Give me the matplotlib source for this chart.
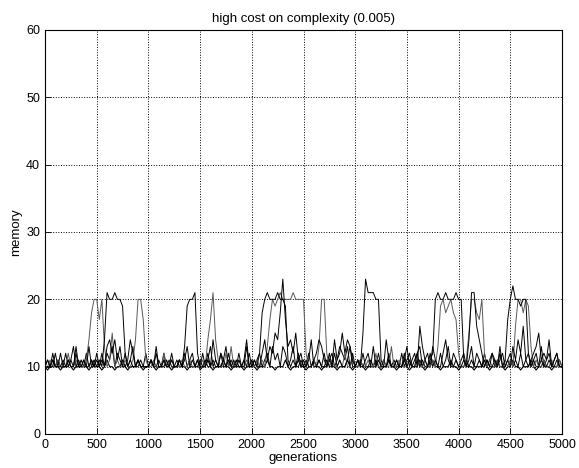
import numpy as np
import matplotlib
matplotlib.use("Agg")
import matplotlib.pyplot as plt

# one sample every 25 generations, 0 .. 5000
step = 25
gens = np.arange(0, 5001, step)

run_a = [10, 11, 10, 10, 12, 10, 10, 11, 10, 10, 11, 10, 12, 10, 10, 11, 10, 10, 11, 10,
         10, 11, 10, 14, 21, 20, 20, 21, 20, 20, 19, 12, 10, 11, 10, 10, 11, 10, 10, 10,
         10, 11, 10, 12, 10, 10, 11, 10, 10, 11, 10, 10, 11, 10, 13, 19, 20, 20, 21, 12,
         10, 10, 11, 10, 10, 11, 10, 10, 12, 10, 10, 11, 10, 10, 10, 11, 10, 10, 13, 10,
         10, 11, 10, 12, 18, 20, 21, 20, 20, 20, 21, 20, 20, 19, 11, 10, 11, 10, 10, 11,
         10, 10, 11, 14, 10, 10, 11, 10, 10, 11, 10, 10, 12, 10, 11, 10, 10, 11, 13, 10,
         10, 11, 10, 15, 23, 21, 21, 21, 20, 20, 11, 10, 10, 11, 10, 10, 11, 10, 10, 12,
         10, 11, 10, 10, 12, 10, 11, 10, 10, 11, 12, 20, 21, 20, 20, 21, 20, 20, 20, 21,
         20, 20, 11, 10, 10, 11, 10, 10, 11, 10, 10, 11, 10, 10, 11, 10, 12, 10, 11, 17,
         20, 22, 20, 20, 19, 20, 20, 12, 10, 11, 10, 10, 11, 10, 10, 11, 10, 10, 11, 10,
         10]

run_b = [10, 10, 11, 10, 10, 11, 10, 10, 10, 12, 10, 10, 11, 10, 10, 10, 11, 14, 18, 20,
         20, 17, 20, 13, 10, 11, 15, 10, 11, 10, 10, 11, 10, 10, 11, 14, 20, 20, 17, 11,
         10, 10, 11, 10, 10, 10, 12, 10, 10, 11, 10, 10, 10, 11, 10, 10, 11, 10, 10, 10,
         10, 11, 10, 14, 17, 21, 14, 11, 10, 10, 12, 10, 13, 10, 10, 11, 10, 10, 11, 10,
         10, 10, 11, 10, 11, 10, 13, 17, 20, 19, 20, 21, 20, 20, 20, 20, 21, 20, 20, 20,
         20, 12, 10, 10, 11, 10, 13, 20, 20, 12, 10, 11, 10, 10, 11, 10, 12, 10, 10, 11,
         10, 10, 11, 10, 10, 11, 10, 10, 12, 10, 10, 11, 10, 10, 13, 10, 10, 11, 10, 10,
         10, 11, 10, 10, 11, 10, 10, 11, 10, 10, 11, 10, 13, 19, 20, 18, 19, 20, 18, 17,
         12, 10, 10, 11, 15, 20, 20, 18, 17, 20, 12, 10, 11, 10, 10, 11, 10, 10, 11, 10,
         11, 10, 16, 20, 20, 18, 20, 19, 13, 10, 11, 10, 10, 11, 10, 10, 11, 10, 10, 11,
         10]

run_c = [10, 10, 10, 11, 10, 10, 12, 10, 10, 11, 10, 10, 13, 10, 10, 11, 10, 13, 10, 10,
         11, 10, 12, 10, 13, 14, 12, 14, 11, 13, 10, 10, 11, 14, 12, 10, 10, 11, 10, 10,
         10, 11, 10, 13, 10, 10, 11, 10, 10, 12, 10, 10, 11, 10, 11, 13, 10, 11, 10, 10,
         11, 10, 10, 12, 10, 14, 11, 10, 10, 11, 10, 12, 10, 11, 10, 10, 10, 11, 14, 10,
         10, 11, 10, 10, 12, 14, 11, 13, 12, 15, 14, 18, 23, 17, 13, 14, 12, 15, 11, 12,
         10, 11, 10, 10, 11, 12, 14, 13, 11, 10, 12, 10, 14, 11, 12, 15, 12, 14, 13, 11,
         10, 11, 10, 10, 11, 12, 10, 13, 10, 11, 10, 10, 14, 11, 10, 10, 11, 10, 10, 11,
         13, 10, 11, 12, 10, 16, 13, 11, 10, 12, 10, 11, 10, 10, 12, 14, 11, 10, 10, 11,
         10, 10, 11, 10, 14, 21, 21, 16, 14, 12, 10, 11, 10, 12, 11, 10, 13, 10, 10, 11,
         10, 13, 11, 14, 12, 16, 11, 10, 11, 12, 13, 15, 11, 12, 11, 14, 10, 11, 12, 10,
         10]

run_d = [10, 9.5, 10, 11, 10, 10, 9.5, 10, 10, 11, 10, 9.5, 10, 10, 11, 10, 10, 9.5, 10, 11,
         10, 10, 9.5, 10, 11, 10, 10, 9.5, 10, 10, 11, 10, 9.5, 10, 10, 10, 11, 10, 9.5, 10,
         10, 11, 10, 9.5, 10, 10, 10, 11, 10, 9.5, 10, 10, 11, 10, 10, 9.5, 10, 10, 10, 11,
         9.5, 10, 10, 11, 10, 9.5, 10, 10, 10, 11, 10, 10, 9.5, 10, 11, 10, 10, 9.5, 10, 10,
         11, 10, 9.5, 10, 10, 10, 11, 10, 10, 9.5, 10, 10, 10, 11, 10, 9.5, 10, 10, 11, 10,
         10, 9.5, 10, 10, 11, 10, 10, 9.5, 10, 10, 11, 10, 10, 9.5, 10, 10, 10, 11, 10, 9.5,
         10, 10, 11, 10, 9.5, 10, 10, 10, 11, 10, 9.5, 10, 10, 11, 10, 10, 9.5, 10, 10, 11,
         10, 9.5, 10, 10, 10, 11, 10, 9.5, 10, 10, 11, 10, 10, 9.5, 10, 10, 10, 11, 10, 10,
         9.5, 10, 10, 11, 10, 10, 9.5, 10, 10, 10, 11, 10, 9.5, 10, 10, 11, 10, 10, 9.5, 10,
         10, 11, 10, 10, 9.5, 10, 10, 10, 11, 10, 9.5, 10, 10, 11, 10, 10, 9.5, 10, 10, 11,
         10]

run_e = [10, 11, 10, 12, 10, 11, 10, 10, 12, 10, 11, 13, 10, 11, 10, 10, 12, 10, 11, 10,
         12, 10, 11, 10, 12, 11, 13, 10, 12, 11, 10, 12, 10, 11, 13, 10, 11, 10, 10, 12,
         10, 11, 10, 10, 11, 10, 12, 10, 11, 10, 10, 11, 10, 10, 12, 10, 11, 12, 10, 11,
         10, 12, 10, 11, 13, 10, 11, 10, 12, 11, 13, 10, 11, 10, 10, 12, 10, 11, 10, 12,
         10, 10, 11, 12, 10, 11, 12, 10, 13, 11, 12, 10, 13, 12, 10, 11, 13, 10, 12, 10,
         11, 10, 12, 10, 11, 10, 11, 10, 12, 10, 11, 12, 10, 11, 13, 12, 11, 13, 10, 12,
         10, 11, 10, 12, 10, 10, 11, 10, 10, 12, 10, 11, 10, 12, 10, 11, 10, 10, 12, 10,
         11, 12, 10, 11, 12, 13, 10, 11, 12, 10, 13, 11, 10, 12, 10, 11, 13, 10, 12, 11,
         10, 11, 12, 10, 11, 13, 10, 12, 11, 10, 12, 10, 11, 12, 10, 10, 11, 12, 10, 11,
         12, 10, 11, 10, 12, 10, 11, 12, 10, 11, 12, 10, 13, 10, 11, 12, 10, 11, 12, 10,
         10]

xticks = list(range(0, 5001, 500))
yticks = list(range(0, 61, 10))

plt.rcParams['font.family'] = ['Liberation Sans', 'DejaVu Sans']

fig = plt.figure(figsize=(5.79, 4.68), dpi=100)
ax = fig.add_axes([45 / 579, 1 - 434 / 468, 517 / 579, 404 / 468])

# noise runs first, the runs with plateaus on top
ax.plot(gens, run_d, color='black', linewidth=0.8)
ax.plot(gens, run_e, color='black', linewidth=0.7)
ax.plot(gens, run_b, color='0.35', linewidth=0.7)
ax.plot(gens, run_c, color='black', linewidth=0.7)
ax.plot(gens, run_a, color='black', linewidth=0.7)

ax.set_xlim(0, 5000)
ax.set_ylim(0, 60)
ax.set_xticks(xticks)
ax.set_yticks(yticks)
ax.grid(True, linestyle=':', color='black', linewidth=0.7)
ax.tick_params(direction='in', length=4, labelsize=9, width=0.6)
for s in ax.spines.values():
    s.set_linewidth(0.8)

ax.set_title('high cost on complexity (0.005)', fontsize=9.5, pad=6)
ax.set_xlabel('generations', fontsize=9.5, labelpad=1)
ax.set_ylabel('memory', fontsize=9.5, labelpad=3)

fig.savefig('out.png', dpi=100)
